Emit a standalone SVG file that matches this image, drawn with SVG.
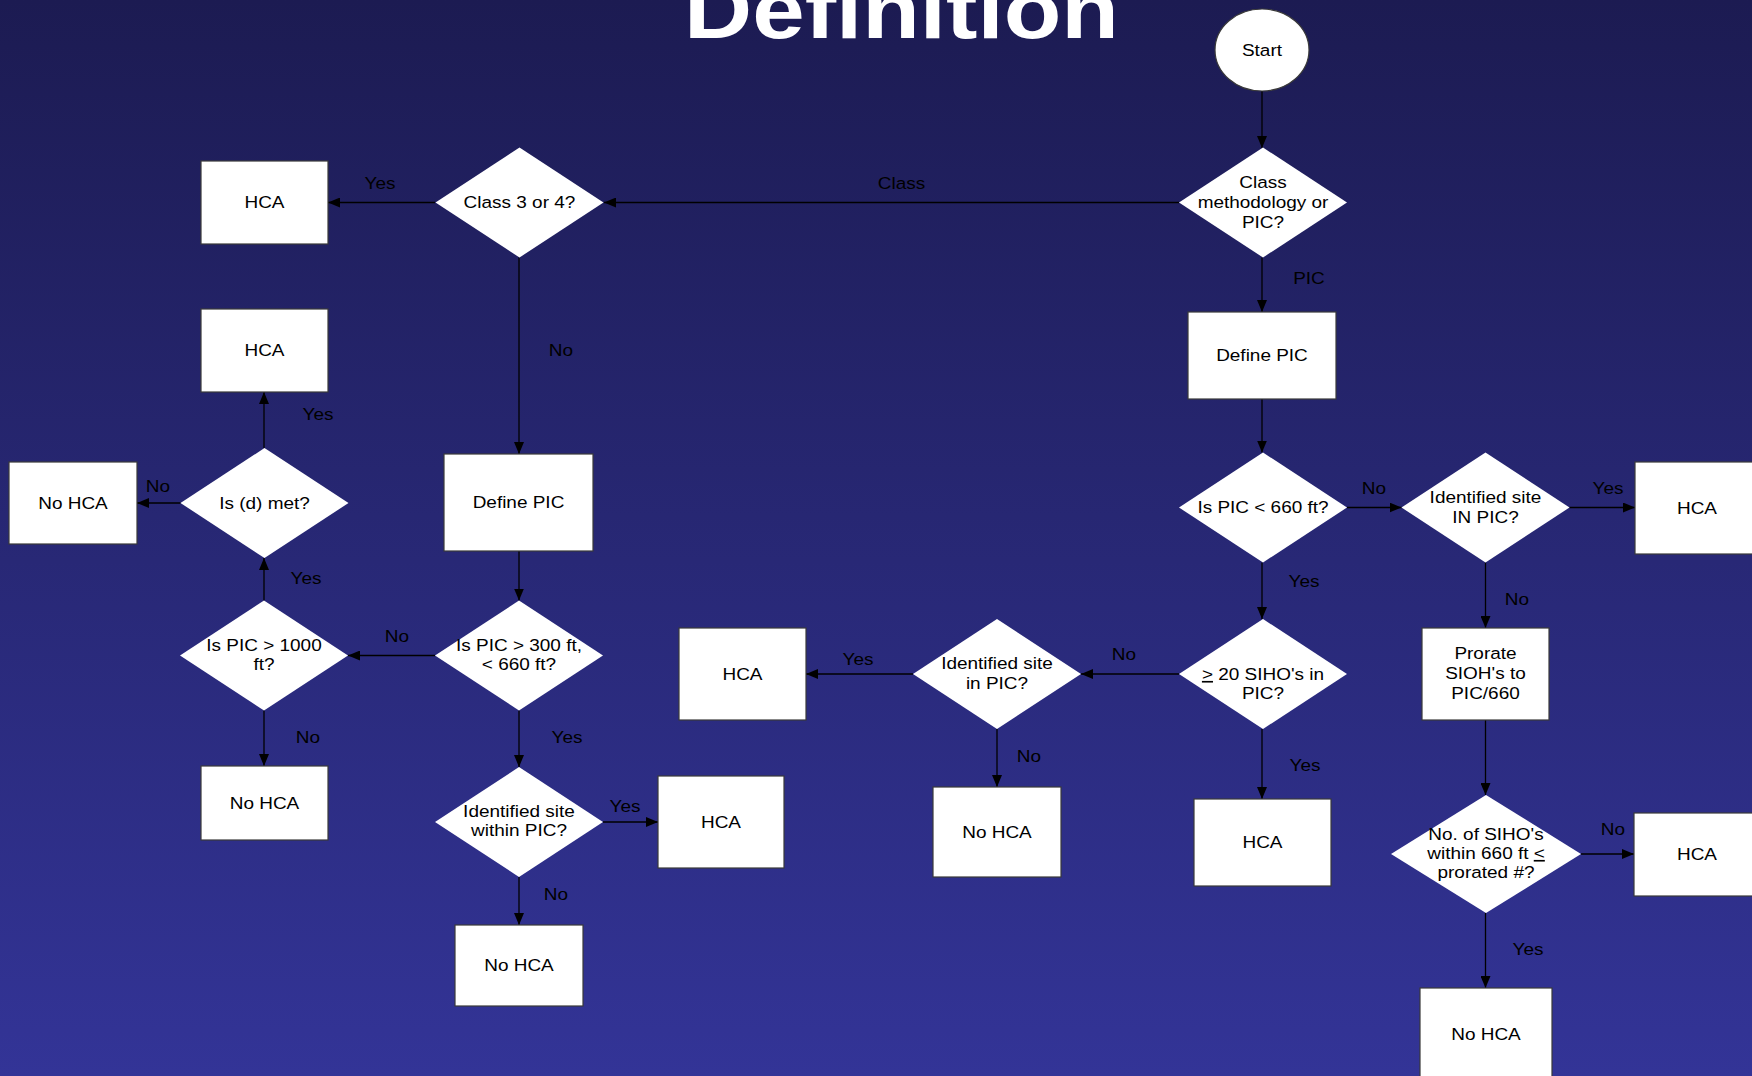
<svg xmlns="http://www.w3.org/2000/svg" width="1752" height="1076" viewBox="0 0 1752 1076">
<defs>
<linearGradient id="bg" x1="0" y1="0" x2="0" y2="1">
<stop offset="0" stop-color="#1c1b52"/>
<stop offset="1" stop-color="#333497"/>
</linearGradient>
<marker id="ah" markerUnits="userSpaceOnUse" markerWidth="12" markerHeight="10" refX="12" refY="5" orient="auto">
<path d="M0,0 L12,5 L0,10 z" fill="#000"/>
</marker>
<style>
.box{fill:#fff;stroke:#3a3a3a;stroke-width:1.2}
.dia{fill:#fff;stroke:none}
.t{font-family:"Liberation Sans",Arial,sans-serif;font-size:16.5px;fill:#000;text-anchor:middle;transform-box:fill-box;transform-origin:center;transform:scaleX(1.15)}
.title{font-family:"Liberation Sans",Arial,sans-serif;font-weight:bold;font-size:82px;fill:#fff;text-anchor:middle;transform-box:fill-box;transform-origin:center;transform:scaleX(1.15)}
.u{text-decoration:underline}
.conn path{stroke:#000;stroke-width:1.3;fill:none;marker-end:url(#ah)}
</style>
</defs>
<rect x="0" y="0" width="1752" height="1076" fill="url(#bg)"/>
<text class="title" x="901.5" y="38">Definition</text>

<g id="connectors" class="conn">
<path d="M1262,91 V148"/>
<path d="M1179,202.5 H604"/>
<path d="M435,202.5 H328"/>
<path d="M519,257.5 V454"/>
<path d="M519,551 V600.5"/>
<path d="M435,655.5 H348"/>
<path d="M264,600.5 V558"/>
<path d="M264,448 V392"/>
<path d="M180.5,503 H137"/>
<path d="M264,710.5 V766"/>
<path d="M519,710.5 V767"/>
<path d="M603,822 H658"/>
<path d="M519,877 V925"/>
<path d="M1262,257.5 V312"/>
<path d="M1262,399 V452.5"/>
<path d="M1347,507.5 H1401.5"/>
<path d="M1569.5,507.5 H1635"/>
<path d="M1262,562.5 V619"/>
<path d="M1179,674 H1081"/>
<path d="M913,674 H806"/>
<path d="M997,729 V787"/>
<path d="M1262,729 V799"/>
<path d="M1485.5,562.5 V628"/>
<path d="M1485.5,720 V795"/>
<path d="M1581,854 H1634"/>
<path d="M1485.5,913 V988"/>
</g>

<g id="edge-labels">
<text class="t" x="380" y="189">Yes</text>
<text class="t" x="901.5" y="189">Class</text>
<text class="t" x="1309" y="284">PIC</text>
<text class="t" x="561" y="356">No</text>
<text class="t" x="318" y="420">Yes</text>
<text class="t" x="158" y="492">No</text>
<text class="t" x="306" y="584">Yes</text>
<text class="t" x="397" y="642">No</text>
<text class="t" x="308" y="743">No</text>
<text class="t" x="567" y="743">Yes</text>
<text class="t" x="625" y="812">Yes</text>
<text class="t" x="556" y="900">No</text>
<text class="t" x="1374" y="494">No</text>
<text class="t" x="1608" y="494">Yes</text>
<text class="t" x="1304" y="587">Yes</text>
<text class="t" x="1517" y="605">No</text>
<text class="t" x="1124" y="660">No</text>
<text class="t" x="858" y="665">Yes</text>
<text class="t" x="1029" y="762">No</text>
<text class="t" x="1305" y="771">Yes</text>
<text class="t" x="1613" y="835">No</text>
<text class="t" x="1528" y="955">Yes</text>
</g>

<g id="start"><ellipse cx="1262" cy="50" rx="47" ry="41" class="box"/><text class="t" x="1262" y="56">Start</text></g>
<g id="d-method"><polygon class="dia" points="1179,202.5 1263,147.5 1347,202.5 1263,257.5"/><text class="t" x="1263" y="188">Class</text><text class="t" x="1263" y="208">methodology or</text><text class="t" x="1263" y="228">PIC?</text></g>
<g id="d-class34"><polygon class="dia" points="435.5,202.5 519.5,147.5 603.5,202.5 519.5,257.5"/><text class="t" x="519.5" y="208">Class 3 or 4?</text></g>
<g id="hca1"><rect class="box" x="201" y="161" width="127" height="83"/><text class="t" x="264.5" y="208">HCA</text></g>
<g id="define-pic-left"><rect class="box" x="444" y="454" width="149" height="97"/><text class="t" x="518.5" y="508">Define PIC</text></g>
<g id="d-300"><polygon class="dia" points="435,655.5 519,600.5 603,655.5 519,710.5"/><text class="t" x="519" y="651">Is PIC &gt; 300 ft,</text><text class="t" x="519" y="670">&lt; 660 ft?</text></g>
<g id="d-1000"><polygon class="dia" points="180,655.5 264,600.5 348,655.5 264,710.5"/><text class="t" x="264" y="651">Is PIC &gt; 1000</text><text class="t" x="264" y="670">ft?</text></g>
<g id="d-dmet"><polygon class="dia" points="180.5,503 264.5,448 348.5,503 264.5,558"/><text class="t" x="264.5" y="509">Is (d) met?</text></g>
<g id="hca2"><rect class="box" x="201" y="309" width="127" height="83"/><text class="t" x="264.5" y="356">HCA</text></g>
<g id="nohca1"><rect class="box" x="9" y="462" width="128" height="82"/><text class="t" x="73" y="509">No HCA</text></g>
<g id="nohca2"><rect class="box" x="201" y="766" width="127" height="74"/><text class="t" x="264.5" y="809">No HCA</text></g>
<g id="d-within"><polygon class="dia" points="435,822 519,767 603,822 519,877"/><text class="t" x="519" y="817">Identified site</text><text class="t" x="519" y="836">within PIC?</text></g>
<g id="hca3"><rect class="box" x="658" y="776" width="126" height="92"/><text class="t" x="721" y="828">HCA</text></g>
<g id="nohca3"><rect class="box" x="455" y="925" width="128" height="81"/><text class="t" x="519" y="971">No HCA</text></g>
<g id="define-pic-right"><rect class="box" x="1188" y="312" width="148" height="87"/><text class="t" x="1262" y="361">Define PIC</text></g>
<g id="d-660"><polygon class="dia" points="1179,507.5 1263,452.5 1347,507.5 1263,562.5"/><text class="t" x="1263" y="513">Is PIC &lt; 660 ft?</text></g>
<g id="d-in"><polygon class="dia" points="1401.5,507.5 1485.5,452.5 1569.5,507.5 1485.5,562.5"/><text class="t" x="1485.5" y="503">Identified site</text><text class="t" x="1485.5" y="523">IN PIC?</text></g>
<g id="hca4"><rect class="box" x="1635" y="462" width="127" height="92"/><text class="t" x="1697" y="514">HCA</text></g>
<g id="d-20"><polygon class="dia" points="1179,674 1263,619 1347,674 1263,729"/><text class="t" x="1263" y="680"><tspan class="u">&gt;</tspan> 20 SIHO's in</text><text class="t" x="1263" y="699">PIC?</text></g>
<g id="d-inpic"><polygon class="dia" points="913,674 997,619 1081,674 997,729"/><text class="t" x="997" y="669">Identified site</text><text class="t" x="997" y="689">in PIC?</text></g>
<g id="hca5"><rect class="box" x="679" y="628" width="127" height="92"/><text class="t" x="742.5" y="680">HCA</text></g>
<g id="nohca4"><rect class="box" x="933" y="787" width="128" height="90"/><text class="t" x="997" y="838">No HCA</text></g>
<g id="hca6"><rect class="box" x="1194" y="799" width="137" height="87"/><text class="t" x="1262.5" y="848">HCA</text></g>
<g id="prorate"><rect class="box" x="1422" y="628" width="127" height="92"/><text class="t" x="1485.5" y="659">Prorate</text><text class="t" x="1485.5" y="679">SIOH's to</text><text class="t" x="1485.5" y="699">PIC/660</text></g>
<g id="d-prorated"><polygon class="dia" points="1391,854 1486,795 1581,854 1486,913"/><text class="t" x="1486" y="840">No. of SIHO's</text><text class="t" x="1486" y="859">within 660 ft <tspan class="u">&lt;</tspan></text><text class="t" x="1486" y="878">prorated #?</text></g>
<g id="hca7"><rect class="box" x="1634" y="813" width="127" height="83"/><text class="t" x="1697" y="860">HCA</text></g>
<g id="nohca5"><rect class="box" x="1420" y="988" width="132" height="91"/><text class="t" x="1486" y="1040">No HCA</text></g>
</svg>
